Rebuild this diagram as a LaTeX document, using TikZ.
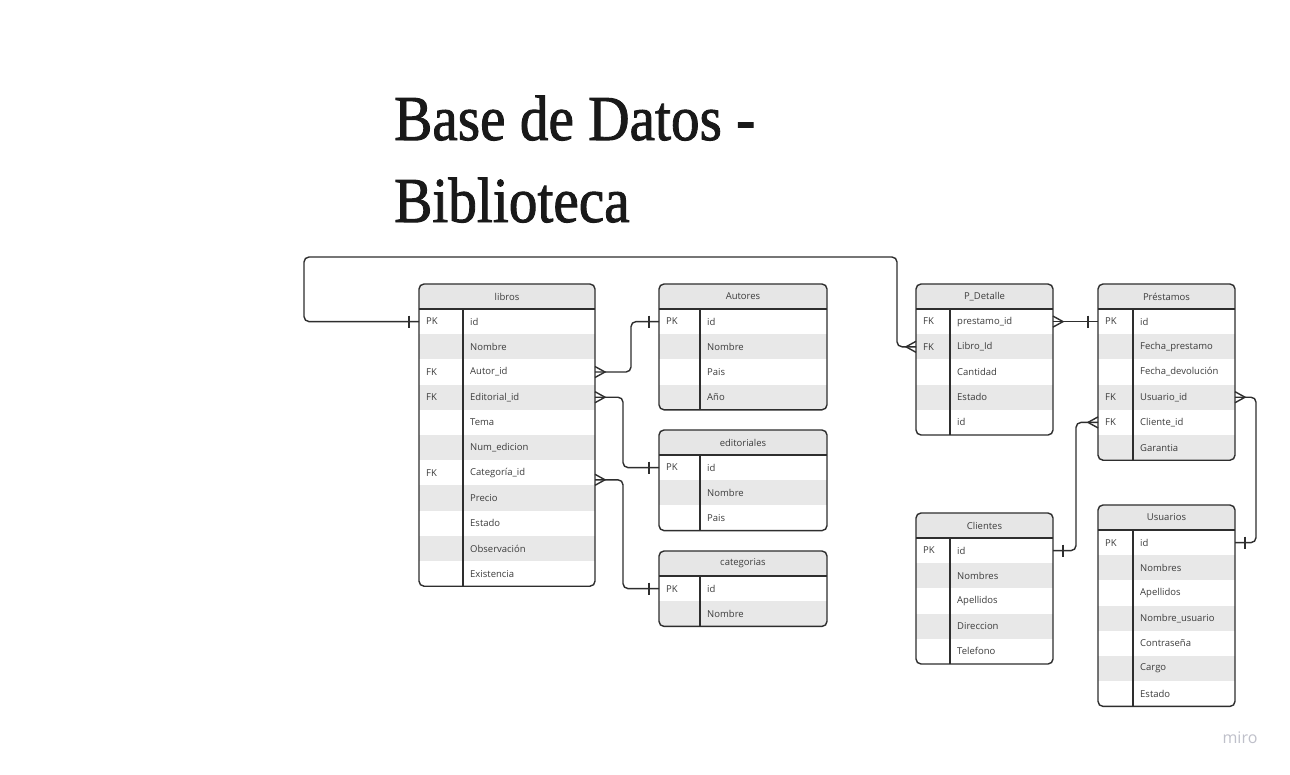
\documentclass[tikz,border=0pt]{standalone}
\usepackage{fontspec}
\setmainfont{Open Sans}
\newfontfamily\titlefont{Liberation Serif}[FakeBold=1.5]
\usetikzlibrary{calc}
\definecolor{ink}{HTML}{2E2E2E}
\definecolor{txt}{HTML}{3C3C3C}
\definecolor{hdrgray}{HTML}{E6E6E6}
\definecolor{rowgray}{HTML}{E8E8E8}
\definecolor{mirogray}{HTML}{BFC0CA}
\tikzset{
  line/.style={draw=ink, line width=1.4pt},
  conn/.style={draw=ink, line width=1.4pt, rounded corners=5pt},
  rowbox/.style={rectangle, inner sep=0pt, outer sep=0pt, minimum height=25.2pt, draw=none},
  keytext/.style={font=\fontsize{9.5}{11}\selectfont, text=txt, inner sep=0pt},
  fieldtext/.style={font=\fontsize{9.5}{11}\selectfont, text=txt, inner sep=0pt},
  tabtitle/.style={font=\fontsize{9.5}{11}\selectfont, text=txt, inner sep=0pt},
  bigtitle/.style={font=\titlefont\fontsize{64}{70}\selectfont, text=black!90, inner sep=0pt, anchor=base west},
}
\newcommand\ertable[7]{%
  \foreach \k/\f [count=\i] in {#7} {\xdef\nrows{\i}}%
  \pgfmathsetmacro\tw{#3-#2}%
  \pgfmathsetmacro\tb{#4+25+\nrows*25.2}%
  \begin{scope}
    \clip[rounded corners=5pt] (#2,#4) rectangle (#3,\tb);
    \fill[hdrgray] (#2,#4) rectangle (#3,#4+25);
    \foreach \k/\f [count=\i] in {#7} {
      \pgfmathsetmacro\ry{#4+25+(\i-1)*25.2}
      \ifodd\i \def\rf{white}\else\def\rf{rowgray}\fi
      \node[rowbox, fill=\rf, minimum width=\tw pt, anchor=north west] (#1-\i) at (#2,\ry) {};
      \node[keytext, anchor=west] (#1-k\i) at (#2+7,\ry+12.6) {\k};
      \node[fieldtext, anchor=west] (#1-f\i) at (#5+7,\ry+12.6) {\f};
    }
  \end{scope}
  \node[tabtitle] (#1-title) at ({(#2+#3)/2},#4+12.5) {#6};
  \draw[line] (#2,#4+25) -- (#3,#4+25);
  \draw[line] (#5,#4+25) -- (#5,\tb);
  \draw[line, rounded corners=5pt] (#2,#4) rectangle (#3,\tb);
}
\newcommand\crowR[1]{\draw[line] ([yshift=5.5pt]#1) -- ([xshift=10pt]#1) -- ([yshift=-5.5pt]#1);}
\newcommand\crowL[1]{\draw[line] ([yshift=5.5pt]#1) -- ([xshift=-10pt]#1) -- ([yshift=-5.5pt]#1);}
\newcommand\barR[1]{\draw[line] ([xshift=10pt,yshift=6pt]#1) -- ([xshift=10pt,yshift=-6pt]#1);}
\newcommand\barL[1]{\draw[line] ([xshift=-10pt,yshift=6pt]#1) -- ([xshift=-10pt,yshift=-6pt]#1);}
\begin{document}
\begin{tikzpicture}[x=1pt,y=-1pt]
\useasboundingbox[fill=white] (0,0) rectangle (1290,774);

\node[bigtitle] (title1) at (394,140) {\scalebox{0.895}[1]{Base de Datos -}};
\node[bigtitle] (title2) at (394,222) {\scalebox{0.895}[1]{Biblioteca}};

\ertable{libros}{419}{595}{284}{463}{libros}{PK/id, {}/Nombre, FK/Autor\_id, FK/Editorial\_id, {}/Tema, {}/Num\_edicion, FK/Categoría\_id, {}/Precio, {}/Estado, {}/Observación, {}/Existencia}
\ertable{autores}{659}{827}{284}{700}{Autores}{PK/id, {}/Nombre, {}/Pais, {}/Año}
\ertable{editoriales}{659}{827}{430}{700}{editoriales}{PK/id, {}/Nombre, {}/Pais}
\ertable{categorias}{659}{827}{551}{700}{categorias}{PK/id, {}/Nombre}
\ertable{pdetalle}{916}{1053}{284}{950}{P\_Detalle}{FK/prestamo\_id, FK/Libro\_Id, {}/Cantidad, {}/Estado, {}/id}
\ertable{prestamos}{1098}{1235}{284}{1133}{Préstamos}{PK/id, {}/Fecha\_prestamo, {}/Fecha\_devolución, FK/Usuario\_id, FK/Cliente\_id, {}/Garantia}
\ertable{clientes}{916}{1053}{513}{950}{Clientes}{PK/id, {}/Nombres, {}/Apellidos, {}/Direccion, {}/Telefono}
\ertable{usuarios}{1098}{1235}{505}{1133}{Usuarios}{PK/id, {}/Nombres, {}/Apellidos, {}/Nombre\_usuario, {}/Contraseña, {}/Cargo, {}/Estado}

% connectors
\draw[conn] (libros-1.west) -| (304,257) -| (897,300) |- (pdetalle-2.west);
\barL{libros-1.west} \crowL{pdetalle-2.west}

\draw[conn] (libros-3.east) -| (631,340) |- (autores-1.west);
\crowR{libros-3.east} \barL{autores-1.west}

\draw[conn] (libros-4.east) -| (623,430) |- (editoriales-1.west);
\crowR{libros-4.east} \barL{editoriales-1.west}

\coordinate (catfk) at ([yshift=-7pt]libros-7.east);
\draw[conn] (catfk) -| (623,530) |- (categorias-1.west);
\crowR{catfk} \barL{categorias-1.west}

\draw[conn] (pdetalle-1.east) -- (prestamos-1.west);
\crowR{pdetalle-1.east} \barL{prestamos-1.west}

\draw[conn] (prestamos-5.west) -| (1076,480) |- (clientes-1.east);
\crowL{prestamos-5.west} \barR{clientes-1.east}

\draw[conn] (prestamos-4.east) -| (1256,470) |- (usuarios-1.east);
\crowR{prestamos-4.east} \barR{usuarios-1.east}

\node[font=\fontsize{16}{18}\selectfont, text=mirogray] (miro) at (1240,738) {miro};
\end{tikzpicture}
\end{document}
